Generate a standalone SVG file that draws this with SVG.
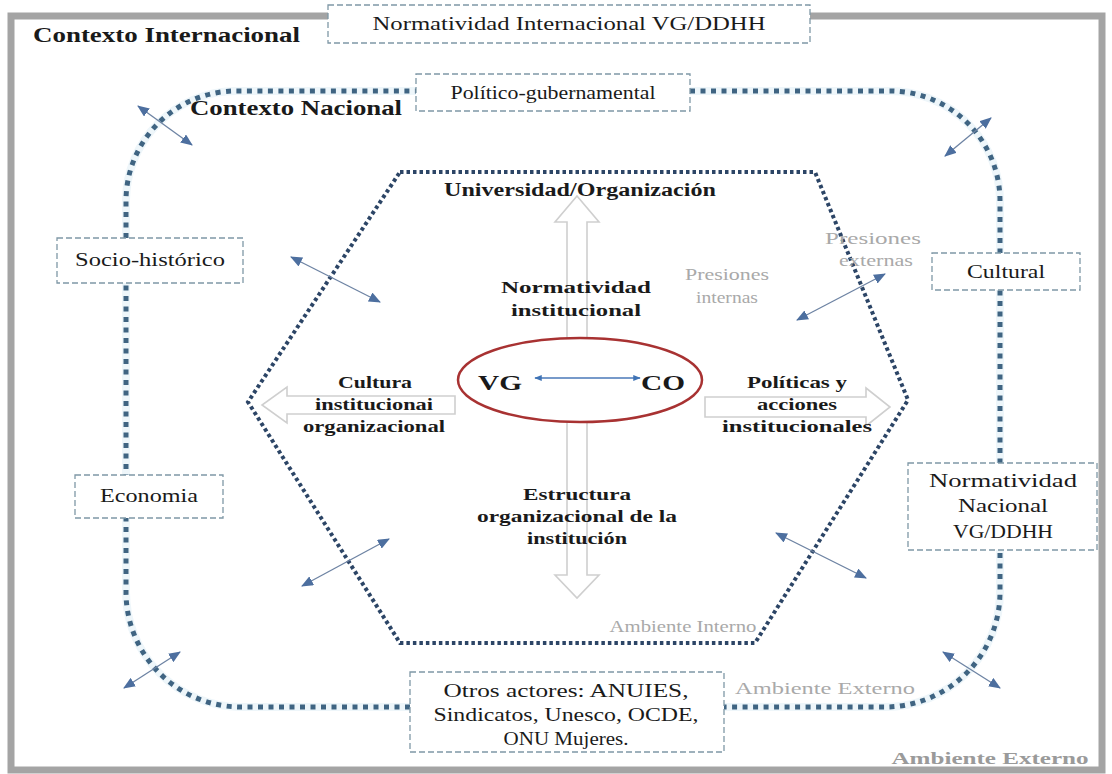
<svg xmlns="http://www.w3.org/2000/svg" width="1112" height="774" viewBox="0 0 1112 774">
<defs>
<style>
.t{font-family:"Liberation Serif","Times New Roman",serif;fill:#1a1a1a;text-anchor:middle}
.b{font-weight:bold}
.g{fill:#a9a9a9}
.box{fill:#fff;stroke:#7f98a6;stroke-width:1.3;stroke-dasharray:6 3}
.track{fill:none;stroke:#3f6482;stroke-width:5;stroke-dasharray:5 5.5}
.halo{fill:none;stroke:#eef6fa;stroke-width:8}
.hex{fill:none;stroke:#2c4566;stroke-width:4;stroke-dasharray:3.5 3}
.hollow{fill:#fff;stroke:#cfcfcf;stroke-width:1.6}
.dbl{stroke:#6d83a3;stroke-width:1.3;marker-start:url(#ah);marker-end:url(#ah)}
</style>
<marker id="ah" viewBox="0 0 12 10" refX="11" refY="5" markerWidth="12" markerHeight="10" markerUnits="userSpaceOnUse" orient="auto-start-reverse">
<path d="M0,0 L12,5 L0,10 Z" fill="#4d6f9f"/>
</marker>
<marker id="ahs" viewBox="0 0 10 8" refX="9" refY="4" markerWidth="8" markerHeight="6" markerUnits="userSpaceOnUse" orient="auto-start-reverse">
<path d="M0,0 L10,4 L0,8 Z" fill="#3f73b5"/>
</marker>
</defs>
<rect width="1112" height="774" fill="#fff"/>
<g id="frame">
<rect x="11" y="16" width="1091" height="754" fill="#fff" stroke="#a4a4a4" stroke-width="7"/>
</g>
<g id="connectors">
<path class="halo" d="M410,707 H240 A115,115 0 0 1 126,592 V200 A110,110 0 0 1 236,91 H416"/>
<path class="halo" d="M690,91 H890 A110,110 0 0 1 1000,201 V592 A115,115 0 0 1 885,707 H724"/>
<path class="track" d="M410,707 H240 A115,115 0 0 1 126,592 V200 A110,110 0 0 1 236,91 H416"/>
<path class="track" d="M690,91 H890 A110,110 0 0 1 1000,201 V592 A115,115 0 0 1 885,707 H724"/>
<path class="hex" d="M400,172 H815 L908,400 L755,643 H400 L248,402 Z"/>
<line class="dbl" x1="138" y1="106" x2="192" y2="145"/>
<line class="dbl" x1="991" y1="118" x2="945" y2="156"/>
<line class="dbl" x1="291" y1="257" x2="380" y2="302"/>
<line class="dbl" x1="885" y1="274" x2="797" y2="320"/>
<line class="dbl" x1="389" y1="539" x2="302" y2="586"/>
<line class="dbl" x1="776" y1="533" x2="866" y2="578"/>
<line class="dbl" x1="180" y1="652" x2="124" y2="688"/>
<line class="dbl" x1="943" y1="652" x2="1000" y2="688"/>
<polygon class="hollow" points="567,352 567,222 555,222 577,196 599,222 587,222 587,352"/>
<polygon class="hollow" points="567,410 567,575 555,575 577,598 599,575 587,575 587,410"/>
<polygon class="hollow" points="455,396 287,396 287,387 262,405 287,423 287,414 455,414"/>
<polygon class="hollow" points="705,397 866,397 866,388 890,407 866,426 866,417 705,417"/>
</g>
<g id="contexto-internacional">
<text class="t b" x="33" y="42" style="text-anchor:start" font-size="20" textLength="267" lengthAdjust="spacingAndGlyphs">Contexto Internacional</text>
</g>
<g id="normatividad-internacional">
<rect class="box" x="328" y="5" width="482" height="38"/>
<text class="t" x="569" y="30" font-size="18.5" textLength="393" lengthAdjust="spacingAndGlyphs">Normatividad Internacional VG/DDHH</text>
</g>
<g id="contexto-nacional">
<text class="t b" x="190" y="115" style="text-anchor:start" font-size="20" textLength="212" lengthAdjust="spacingAndGlyphs">Contexto Nacional</text>
</g>
<g id="politico">
<rect class="box" x="416" y="74" width="274" height="37"/>
<text class="t" x="553" y="99" font-size="18" textLength="205" lengthAdjust="spacingAndGlyphs">Político-gubernamental</text>
</g>
<g id="socio-historico">
<rect class="box" x="57" y="238" width="186" height="45"/>
<text class="t" x="150" y="266" font-size="18" textLength="150" lengthAdjust="spacingAndGlyphs">Socio-histórico</text>
</g>
<g id="economia">
<rect class="box" x="75" y="475" width="148" height="43"/>
<text class="t" x="149" y="502" font-size="18" textLength="98" lengthAdjust="spacingAndGlyphs">Economia</text>
</g>
<g id="cultural">
<rect class="box" x="932" y="253" width="148" height="37"/>
<text class="t" x="1006" y="278" font-size="18" textLength="78" lengthAdjust="spacingAndGlyphs">Cultural</text>
</g>
<g id="normatividad-nacional">
<rect class="box" x="908" y="463" width="189" height="87"/>
<text class="t" x="1003" y="487" font-size="18" textLength="148" lengthAdjust="spacingAndGlyphs">Normatividad</text>
<text class="t" x="1003" y="512" font-size="18" textLength="90" lengthAdjust="spacingAndGlyphs">Nacional</text>
<text class="t" x="1003" y="538" font-size="18" textLength="100" lengthAdjust="spacingAndGlyphs">VG/DDHH</text>
</g>
<g id="otros-actores">
<rect class="box" x="410" y="672" width="314" height="80"/>
<text class="t" x="566" y="697" font-size="18" textLength="245" lengthAdjust="spacingAndGlyphs">Otros actores: ANUIES,</text>
<text class="t" x="566" y="721" font-size="18" textLength="265" lengthAdjust="spacingAndGlyphs">Sindicatos, Unesco, OCDE,</text>
<text class="t" x="566" y="745" font-size="18" textLength="125" lengthAdjust="spacingAndGlyphs">ONU Mujeres.</text>
</g>
<g id="universidad">
<text class="t b" x="580" y="196" font-size="18" textLength="272" lengthAdjust="spacingAndGlyphs">Universidad/Organización</text>
</g>
<g id="normatividad-institucional">
<text class="t b" x="576" y="293" font-size="17" textLength="150" lengthAdjust="spacingAndGlyphs">Normatividad</text>
<text class="t b" x="576" y="316" font-size="17" textLength="130" lengthAdjust="spacingAndGlyphs">institucional</text>
</g>
<g id="cultura-institucional">
<text class="t b" x="375" y="388" font-size="17" textLength="74" lengthAdjust="spacingAndGlyphs">Cultura</text>
<text class="t b" x="374" y="410" font-size="17" textLength="118" lengthAdjust="spacingAndGlyphs">institucionai</text>
<text class="t b" x="374" y="432" font-size="17" textLength="142" lengthAdjust="spacingAndGlyphs">organizacional</text>
</g>
<g id="politicas">
<text class="t b" x="797" y="388" font-size="17" textLength="100" lengthAdjust="spacingAndGlyphs">Políticas y</text>
<text class="t b" x="797" y="410" font-size="17" textLength="80" lengthAdjust="spacingAndGlyphs">acciones</text>
<text class="t b" x="797" y="432" font-size="17" textLength="150" lengthAdjust="spacingAndGlyphs">institucionales</text>
</g>
<g id="estructura">
<text class="t b" x="577" y="500" font-size="17" textLength="108" lengthAdjust="spacingAndGlyphs">Estructura</text>
<text class="t b" x="577" y="522" font-size="17" textLength="200" lengthAdjust="spacingAndGlyphs">organizacional de la</text>
<text class="t b" x="577" y="544" font-size="17" textLength="100" lengthAdjust="spacingAndGlyphs">institución</text>
</g>
<g id="vg-co">
<ellipse cx="580" cy="380" rx="122" ry="42" fill="#fff" stroke="#a83232" stroke-width="2.5"/>
<line x1="535" y1="378" x2="640" y2="378" stroke="#4a78b8" stroke-width="1.5" marker-start="url(#ahs)" marker-end="url(#ahs)"/>
<text class="t b" x="500" y="390" font-size="22" textLength="44" lengthAdjust="spacingAndGlyphs">VG</text>
<text class="t b" x="663" y="390" font-size="22" textLength="44" lengthAdjust="spacingAndGlyphs">CO</text>
</g>
<g id="presiones-externas">
<text class="t g" x="873" y="244" font-size="17" textLength="96" lengthAdjust="spacingAndGlyphs">Presiones</text>
<text class="t g" x="876" y="266" font-size="17" textLength="74" lengthAdjust="spacingAndGlyphs">externas</text>
</g>
<g id="presiones-internas">
<text class="t g" x="727" y="280" font-size="17" textLength="84" lengthAdjust="spacingAndGlyphs">Presiones</text>
<text class="t g" x="727" y="303" font-size="17" textLength="62" lengthAdjust="spacingAndGlyphs">internas</text>
</g>
<g id="ambiente-interno">
<text class="t g" x="683" y="632" font-size="17" textLength="147" lengthAdjust="spacingAndGlyphs">Ambiente Interno</text>
</g>
<g id="ambiente-externo-nacional">
<text class="t g" x="825" y="694" font-size="17" textLength="180" lengthAdjust="spacingAndGlyphs">Ambiente Externo</text>
</g>
<g id="ambiente-externo">
<text class="t g b" x="990" y="764" font-size="17" textLength="197" lengthAdjust="spacingAndGlyphs" style="fill:#9a9a9a">Ambiente Externo</text>
</g>
</svg>
